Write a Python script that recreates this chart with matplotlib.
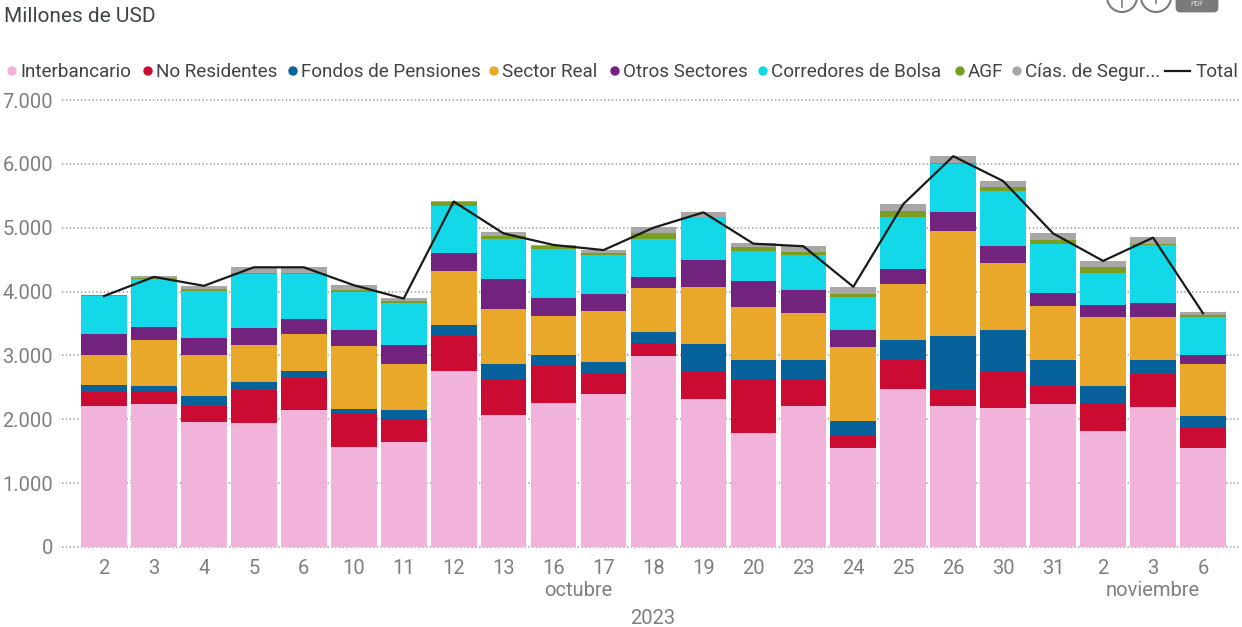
import matplotlib
matplotlib.use('Agg')
import matplotlib.pyplot as plt
from matplotlib.patches import Circle, FancyBboxPatch

plt.rcParams['font.family'] = ['Roboto', 'DejaVu Sans']

days = ['2', '3', '4', '5', '6', '10', '11', '12', '13', '16', '17', '18',
        '19', '20', '23', '24', '25', '26', '30', '31', '2', '3', '6']
y_ticks = [0, 1000, 2000, 3000, 4000, 5000, 6000, 7000]
y_labels = ['0', '1.000', '2.000', '3.000', '4.000', '5.000', '6.000', '7.000']

interbancario = [2210, 2246, 1960, 1940, 2142, 1560, 1648, 2761, 2064, 2262, 2392, 2990,
                 2314, 1778, 2215, 1550, 2475, 2215, 2184, 2236, 1810, 2189, 1550]
no_residentes = [224, 198, 250, 520, 505, 546, 349, 536, 546, 577, 338, 203,
                 442, 848, 416, 192, 458, 250, 556, 281, 447, 520, 327]
fondos_pensiones = [109, 73, 156, 119, 114, 62, 156, 187, 255, 172, 161, 177,
                    427, 307, 302, 224, 307, 832, 656, 411, 265, 219, 172]
sector_real = [468, 717, 645, 588, 572, 983, 718, 838, 869, 614, 797, 692,
               895, 827, 739, 1159, 885, 1656, 1047, 853, 1087, 671, 816]
otros_sectores = [327, 214, 265, 255, 245, 250, 286, 276, 469, 276, 276, 162,
                  412, 401, 354, 276, 224, 292, 276, 193, 188, 219, 146]
corredores = [594, 742, 734, 854, 698, 599, 661, 745, 625, 771, 604, 604,
              671, 469, 552, 510, 812, 755, 854, 776, 500, 911, 583]
agf = [8, 29, 37, 16, 16, 26, 42, 52, 42, 47, 42, 83,
       11, 73, 37, 53, 105, 21, 68, 52, 83, 21, 41]
cias_seguros = [10, 26, 47, 88, 88, 78, 36, 21, 57, 11, 41, 105,
                73, 52, 99, 114, 104, 99, 93, 109, 104, 99, 42]
total = [3930, 4230, 4090, 4380, 4380, 4100, 3890, 5410, 4910, 4730, 4650, 5000,
         5240, 4750, 4710, 4075, 5370, 6120, 5730, 4910, 4480, 4845, 3660]

series = [interbancario, no_residentes, fondos_pensiones, sector_real,
          otros_sectores, corredores, agf, cias_seguros]
names = ['Interbancario', 'No Residentes', 'Fondos de Pensiones', 'Sector Real',
         'Otros Sectores', 'Corredores de Bolsa', 'AGF', 'Cías. de Segur...']
colors = ['#F2B3DA', '#CC0B32', '#07619B', '#E9A82A',
          '#72237E', '#12D8E8', '#7A9E1F', '#A9A6A6']
# pixel x of each legend dot
legend_x = [12, 148, 293, 494, 615, 763, 960, 1017]

W, H = 1242, 627
text_dark = '#3F4448'
text_grey = '#7F7F7F'
icon_grey = '#7A7A7A'


def px_x(x):
    return x / W


def px_y(y):
    return 1 - y / H


fig = plt.figure(figsize=(W / 100, H / 100), dpi=100)
ax = fig.add_axes([px_x(62), px_y(547), (1240 - 62) / W, (547 - 100) / H])

xs = list(range(len(days)))
bottom = [0] * len(days)
for values, color in zip(series, colors):
    ax.bar(xs, values, width=0.915, bottom=bottom, color=color, zorder=3, linewidth=0)
    bottom = [b + v for b, v in zip(bottom, values)]
ax.plot(xs, total, color='#1A1A1A', lw=1.6, zorder=4)

ax.set_xlim(-0.84, 22.74)
ax.set_ylim(0, 7000)
ax.set_yticks(y_ticks)
ax.set_yticklabels(y_labels)
ax.set_xticks(xs)
ax.set_xticklabels(days)
ax.tick_params(axis='both', length=0, labelsize=14.5, labelcolor=text_grey)
ax.tick_params(axis='x', pad=9)
ax.tick_params(axis='y', pad=6.5)
ax.grid(axis='y', color='#ABABAB', lw=1.3, linestyle=(0, (0.8, 1.3)), zorder=1)
for gridline in ax.get_ygridlines():
    gridline.set_clip_on(False)
for spine in ax.spines.values():
    spine.set_visible(False)

fig.text(px_x(4), px_y(16), 'Millones de USD', fontsize=15, color=text_dark, va='center')

for name, color, lx in zip(names, colors, legend_x):
    fig.patches.append(Circle((lx, H - 71), 4, color=color, transform=None))
    fig.text(px_x(lx + 8), px_y(72), name, fontsize=13.6, color=text_dark, va='center')
fig.add_artist(plt.Line2D([px_x(1165), px_x(1190)], [px_y(71), px_y(71)], color='#1A1A1A', lw=1.6))
fig.text(px_x(1196), px_y(72), 'Total', fontsize=13.6, color=text_dark, va='center')

fig.text(px_x(578), px_y(591), 'octubre', fontsize=14.5, color=text_grey, ha='center', va='center')
fig.text(px_x(1153), px_y(591), 'noviembre', fontsize=14.5, color=text_grey, ha='center', va='center')
fig.text(px_x(653), px_y(618), '2023', fontsize=14.5, color=text_grey, ha='center', va='center')

# export icons, cut by the top of the screenshot
for cx in [1122, 1156]:
    fig.patches.append(Circle((cx, H + 3), 15, fill=False, edgecolor=icon_grey, lw=1.5, transform=None))
    fig.add_artist(plt.Line2D([px_x(cx), px_x(cx)], [px_y(0), px_y(3)], color=icon_grey, lw=1.2))
fig.add_artist(plt.Line2D([px_x(1122), px_x(1122)], [px_y(5), px_y(7)], color=icon_grey, lw=1.2))
fig.patches.append(FancyBboxPatch((1177, H - 11), 40, 20, boxstyle='round,pad=0,rounding_size=3',
                                  facecolor=icon_grey, edgecolor=icon_grey, lw=2, transform=None))
fig.text(px_x(1197), px_y(4), 'PDF', fontsize=5, color='#E8E8E8', ha='center', va='center')

fig.savefig('out.png', dpi=100)
